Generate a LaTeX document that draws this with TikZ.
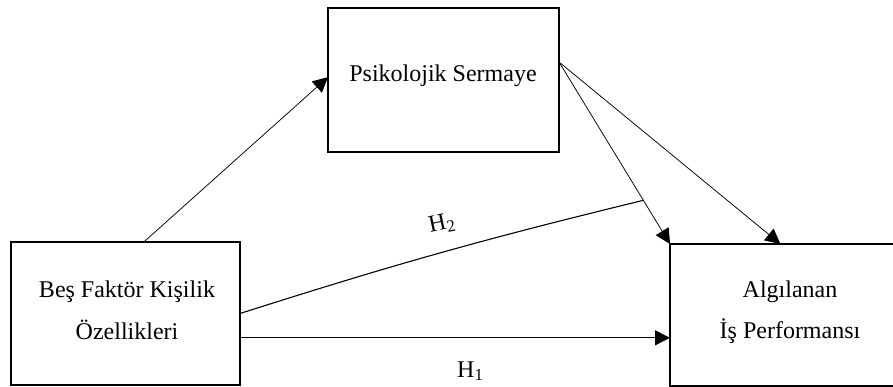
\documentclass[tikz,border=0pt]{standalone}
\usepackage{fontspec}
\setmainfont{Liberation Serif}
\usetikzlibrary{arrows.meta,calc}

\tikzset{
  varbox/.style={draw=black, line width=2.6pt, inner sep=0pt, outer sep=0pt, fill=white},
  boxtext/.style={font=\fontsize{24}{28}\selectfont, inner sep=0pt, anchor=base},
  hyplabel/.style={font=\fontsize{24}{28}\selectfont, inner sep=0pt},
  path/.style={draw=black, line width=0.75pt, -{Triangle[length=15pt,width=15pt]}},
  link/.style={draw=black, line width=1.1pt}
}

\newcommand{\hyp}[1]{H\textsubscript{#1}}

\begin{document}
\begin{tikzpicture}[x=1pt,y=-1pt]
  \useasboundingbox (0,0) rectangle (893,387);

  % variable boxes
  \node[varbox, minimum width=231pt, minimum height=144pt] (ps) at (443.5,80) {};
  \node[varbox, minimum width=229pt, minimum height=143pt] (ls) at (125.5,313.5) {};
  \node[varbox, minimum width=240pt, minimum height=142pt] (al) at (790,315) {};

  % box texts
  \node[boxtext] (pst) at (443,82) {Psikolojik Sermaye};
  \node[boxtext] (ls1) at (127,297) {Beş Faktör Kişilik};
  \node[boxtext] (ls2) at (127,339) {Özellikleri};
  \node[boxtext] (al1) at (790,297) {Algılanan};
  \node[boxtext] (al2) at (790,338) {İş Performansı};

  % anchor points on the box borders
  \coordinate (lsTop) at ($(ls.north west)!0.58!(ls.north east)$);
  \coordinate (psIn)  at ($(ps.north west)!0.48!(ps.south west)$);
  \coordinate (psOut) at ($(ps.north east)!0.375!(ps.south east)$);
  \coordinate (alTop) at ($(al.north west)!0.46!(al.north east)$);
  \coordinate (lsLow) at ($(ls.north east)!0.67!(ls.south east)$);
  \coordinate (meet)  at ($(psOut)!0.76!(al.north west)$);

  % paths of the model
  \draw[path] (lsTop) -- (psIn);
  \draw[path] (psOut) -- (al.north west);
  \draw[path] (psOut) -- (alTop);
  \draw[path] (lsLow) -- (lsLow -| al.west);
  \draw[link] (ls.east) to[bend left=2] (meet);

  % hypothesis labels
  \node[hyplabel, rotate=12] (h2) at (442,224) {\hyp{2}};
  \node[hyplabel, anchor=base west] (h1) at (457,377) {\hyp{1}};
\end{tikzpicture}
\end{document}
